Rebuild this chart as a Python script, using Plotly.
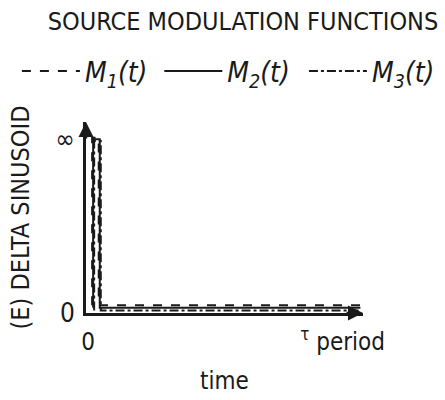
import plotly.graph_objects as go

# ---- data ----
series_names = ["<i>M<sub>1</sub>(t)</i>", "<i>M<sub>2</sub>(t)</i>", "<i>M<sub>3</sub>(t)</i>"]
series_dash = ["dash", "solid", "dashdot"]
series_legend = ["legend", "legend2", "legend3"]

m1_t = [0.016, 0.016, 0.042, 0.042, 1.07]
m1_v = [0.45, 10.1, 10.1, 0.45, 0.45]
m2_t = [0.020, 0.020, 0.046, 0.046, 1.07]
m2_v = [0.3, 10.0, 10.0, 0.3, 0.3]
m3_t = [0.024, 0.024, 0.050, 0.050, 1.07]
m3_v = [0.15, 9.9, 9.9, 0.15, 0.15]

x_tick_vals = [0, 1.0]
x_tick_text = ["0", "<sup>τ</sup> period"]
y_tick_vals = [0, 10]
y_tick_text = ["0", "∞"]

x_range = [-0.008, 1.08]
y_range = [0, 11]

FONT = "DejaVu Sans Condensed, Liberation Sans Narrow, sans-serif"
INK = "#1a1a1a"

fig = go.Figure()
for name, dash, lg, t, v in zip(series_names, series_dash, series_legend,
                                [m1_t, m2_t, m3_t], [m1_v, m2_v, m3_v]):
    fig.add_trace(go.Scatter(x=t, y=v, mode="lines", name=name, legend=lg,
                             line=dict(color=INK, width=2, dash=dash)))

def legend_at(xc):
    return dict(orientation="h", xref="container", yref="container",
                x=xc, y=0.822, xanchor="left", yanchor="middle",
                font=dict(size=28, family=FONT, color=INK),
                itemwidth=58, bgcolor="rgba(0,0,0,0)")

fig.update_layout(
    width=445, height=400,
    margin=dict(l=86, r=82, t=122, b=87, autoexpand=False),
    paper_bgcolor="white", plot_bgcolor="white",
    font=dict(family=FONT, color=INK, size=22),
    title=dict(text="SOURCE MODULATION FUNCTIONS", x=0.546, xref="container",
               y=0.947, yref="container", xanchor="center", yanchor="middle",
               font=dict(size=25, family=FONT, color=INK)),
    showlegend=True,
    legend=legend_at(0.038),
    legend2=legend_at(0.358),
    legend3=legend_at(0.683),
    xaxis=dict(range=x_range, showgrid=False, zeroline=False, showline=True,
               linecolor=INK, linewidth=3, tickmode="array", automargin=False,
               tickvals=x_tick_vals, ticktext=x_tick_text, ticks="",
               tickfont=dict(size=24, family=FONT), ticklabelstandoff=5,
               title=dict(text="time", font=dict(size=24, family=FONT), standoff=18)),
    yaxis=dict(range=y_range, showgrid=False, zeroline=False, showline=True,
               linecolor=INK, linewidth=3, tickmode="array", automargin=False,
               tickvals=y_tick_vals, ticktext=y_tick_text, ticks="",
               tickfont=dict(size=26, family=FONT), ticklabelstandoff=3,
               title=dict(text="(E) DELTA SINUSOID", font=dict(size=25, family=FONT), standoff=19)),
)

# axis arrowheads
fig.add_annotation(x=x_range[0], y=y_range[1], xref="x", yref="y", ax=0, ay=18,
                   showarrow=True, arrowhead=2, arrowsize=1.2, arrowwidth=2.5,
                   arrowcolor=INK, text="", standoff=0)
fig.add_annotation(x=x_range[1], y=y_range[0], xref="x", yref="y", ax=-18, ay=0,
                   showarrow=True, arrowhead=2, arrowsize=1.2, arrowwidth=2.5,
                   arrowcolor=INK, text="", standoff=0)

fig.write_html("out.html", config={"displayModeBar": False},
               post_script="document.body.style.margin='0';document.body.style.overflow='hidden';")
